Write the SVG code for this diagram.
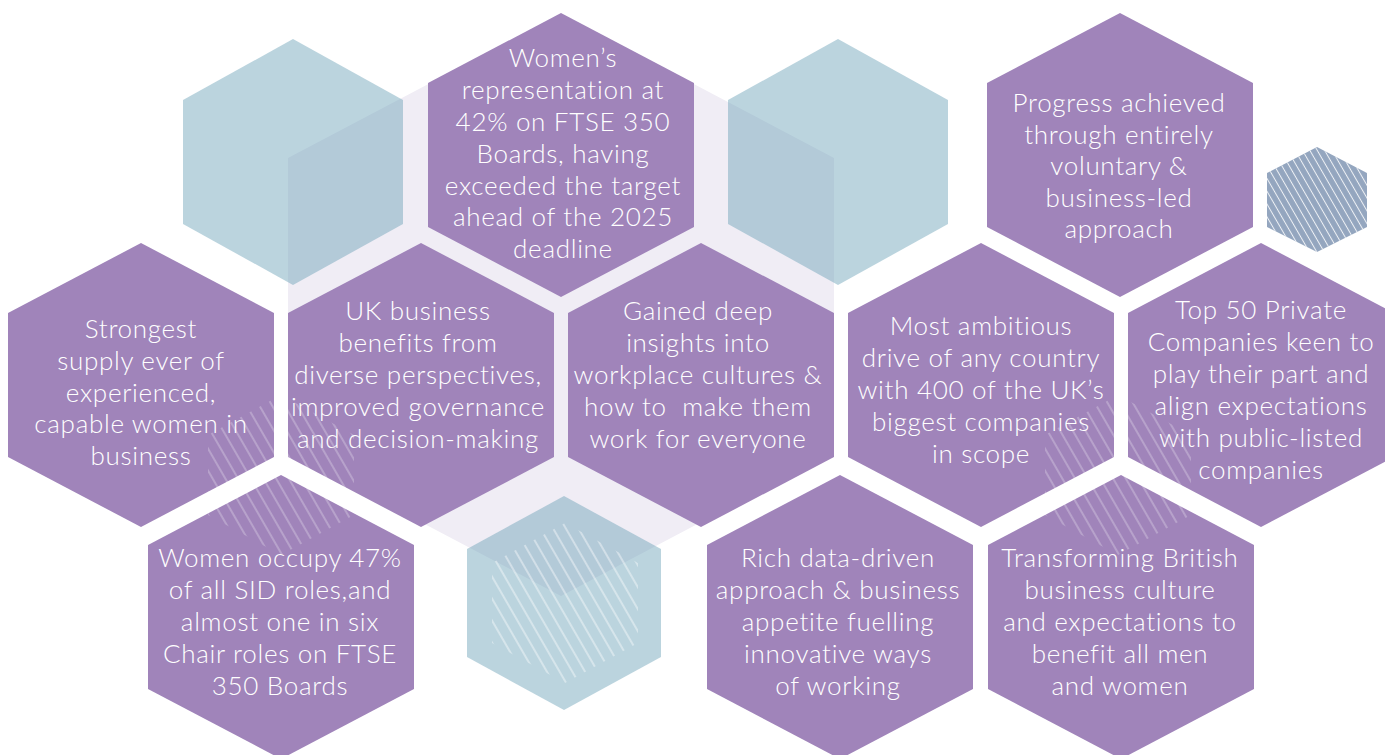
<svg xmlns="http://www.w3.org/2000/svg" xmlns:xlink="http://www.w3.org/1999/xlink" width="1385" height="755" viewBox="0 0 1385 755">
<style>
.p{fill:#a084ba}
.b{fill:#659eb3;fill-opacity:0.44}
.t{font-family:Lato,"Liberation Sans",sans-serif;font-weight:300;font-size:26px;letter-spacing:0.7px;fill:#ffffff;text-anchor:middle;white-space:pre}
.h{fill:url(#hatch)}
.hb{fill:url(#hatchB)}
</style>
<defs>
<polygon id="hexP" points="0,-142 133,-72 133,72 0,142 -133,72 -133,-72"/>
<polygon id="hexH" points="0,-80 73,-40 73,40 0,80 -73,40 -73,-40"/>
<pattern id="hatch" patternUnits="userSpaceOnUse" width="11" height="10" patternTransform="rotate(-30)">
<line x1="5" y1="0" x2="5" y2="10" stroke="#ffffff" stroke-width="0.9" stroke-opacity="0.55"/>
</pattern>
<pattern id="hatchB" patternUnits="userSpaceOnUse" width="11" height="10" patternTransform="rotate(-30)">
<line x1="5" y1="0" x2="5" y2="10" stroke="#ffffff" stroke-width="0.9" stroke-opacity="0.9"/>
</pattern>
<pattern id="hatchS" patternUnits="userSpaceOnUse" width="6.4" height="10" patternTransform="rotate(-30)">
<line x1="3.2" y1="0" x2="3.2" y2="10" stroke="#ffffff" stroke-width="1" stroke-opacity="0.85"/>
</pattern>
</defs>
<rect width="1385" height="755" fill="#ffffff"/>
<g id="background">
<polygon id="lavender" points="561,14 834,158 834,452 561,596 288,452 288,158" fill="#f0edf5"/>
<polygon id="blue-left" class="b" points="293,39 403,100 403,224 293,285 183,224 183,100"/>
<polygon id="blue-right" class="b" points="838,39 948,100 948,224 838,285 728,224 728,100"/>
<polygon id="blue-bottom" class="b" points="564,496 661,549 661,657 564,710 467,657 467,549"/>
<polygon id="small-hex" points="1317,147 1367,173 1367,227 1317,252 1267,227 1267,173" fill="#94a6bf"/>
<polygon points="1317,147 1367,173 1367,227 1317,252 1267,227 1267,173" fill="url(#hatchS)"/>
</g>
<g id="connectors"></g>
<g id="n-womens">
<use xlink:href="#hexP" href="#hexP" class="p" x="561" y="155"/>
<text class="t"><tspan x="563" y="67">Women’s</tspan><tspan x="563" y="99">representation at</tspan><tspan x="563" y="131">42% on FTSE 350</tspan><tspan x="563" y="163">Boards, having</tspan><tspan x="563" y="195">exceeded the target</tspan><tspan x="563" y="226">ahead of the 2025</tspan><tspan x="563" y="258">deadline</tspan></text>
</g>
<g id="n-progress">
<use href="#hexP" class="p" x="1120" y="155"/>
<text class="t"><tspan x="1119" y="112">Progress achieved</tspan><tspan x="1119" y="144">through entirely</tspan><tspan x="1119" y="175">voluntary &amp;</tspan><tspan x="1119" y="207">business-led</tspan><tspan x="1119" y="238">approach</tspan></text>
</g>
<g id="n-strongest">
<use href="#hexP" class="p" x="141" y="385"/>
<text class="t"><tspan x="141" y="338">Strongest</tspan><tspan x="141" y="370">supply ever of</tspan><tspan x="141" y="402">experienced,</tspan><tspan x="141" y="433">capable women in</tspan><tspan x="141" y="465">business</tspan></text>
</g>
<g id="n-ukbusiness">
<use href="#hexP" class="p" x="421" y="385"/>
<text class="t"><tspan x="418" y="320">UK business</tspan><tspan x="418" y="352">benefits from</tspan><tspan x="418" y="384">diverse perspectives,</tspan><tspan x="418" y="416">improved governance</tspan><tspan x="418" y="448">and decision-making</tspan></text>
</g>
<g id="n-gained">
<use href="#hexP" class="p" x="701" y="385"/>
<text class="t"><tspan x="698" y="320">Gained deep</tspan><tspan x="698" y="352">insights into</tspan><tspan x="698" y="384">workplace cultures &amp;</tspan><tspan x="698" y="416">how to  make them</tspan><tspan x="698" y="448">work for everyone</tspan></text>
</g>
<g id="n-ambitious">
<use href="#hexP" class="p" x="981" y="385"/>
<text class="t"><tspan x="981" y="335">Most ambitious</tspan><tspan x="981" y="367">drive of any country</tspan><tspan x="981" y="399">with 400 of the UK’s</tspan><tspan x="981" y="431">biggest companies</tspan><tspan x="981" y="463">in scope</tspan></text>
</g>
<g id="n-top50">
<use href="#hexP" class="p" x="1261" y="385"/>
<text class="t"><tspan x="1261" y="319">Top 50 Private</tspan><tspan x="1261" y="351">Companies keen to</tspan><tspan x="1261" y="383">play their part and</tspan><tspan x="1261" y="415">align expectations</tspan><tspan x="1261" y="447">with public-listed</tspan><tspan x="1261" y="479">companies</tspan></text>
</g>
<g id="n-womenoccupy">
<use href="#hexP" class="p" x="281" y="617"/>
<text class="t"><tspan x="280" y="567">Women occupy 47%</tspan><tspan x="280" y="599">of all SID roles,and</tspan><tspan x="280" y="631">almost one in six</tspan><tspan x="280" y="663">Chair roles on FTSE</tspan><tspan x="280" y="695">350 Boards</tspan></text>
</g>
<g id="n-richdata">
<use href="#hexP" class="p" x="840" y="617"/>
<text class="t"><tspan x="838" y="567">Rich data-driven</tspan><tspan x="838" y="599">approach &amp; business</tspan><tspan x="838" y="631">appetite fuelling</tspan><tspan x="838" y="663">innovative ways</tspan><tspan x="838" y="695">of working</tspan></text>
</g>
<g id="n-transforming">
<use href="#hexP" class="p" x="1121" y="617"/>
<text class="t"><tspan x="1120" y="567">Transforming British</tspan><tspan x="1120" y="599">business culture</tspan><tspan x="1120" y="631">and expectations to</tspan><tspan x="1120" y="663">benefit all men</tspan><tspan x="1120" y="695">and women</tspan></text>
</g>
<g id="hatching">
<use href="#hexH" class="h" x="281" y="475"/>
<use href="#hexH" class="h" x="1118" y="475"/>
<use href="#hexH" class="hb" x="565" y="603"/>
</g>
</svg>
